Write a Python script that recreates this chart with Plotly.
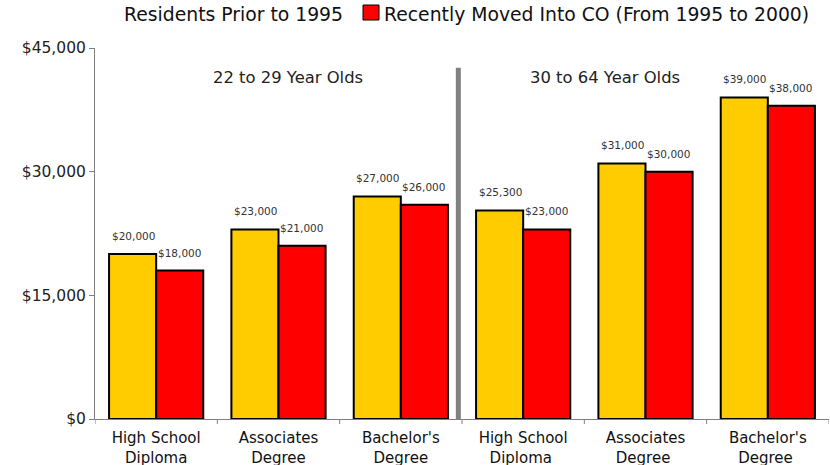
import plotly.graph_objects as go

categories = ["High School<br>Diploma", "Associates<br>Degree", "Bachelor's<br>Degree",
              "High School<br>Diploma ", "Associates<br>Degree ", "Bachelor's<br>Degree "]
residents = [20000, 23000, 27000, 25300, 31000, 39000]
movers = [18000, 21000, 26000, 23000, 30000, 38000]
series_names = ["Residents Prior to 1995", "Recently Moved Into CO (From 1995 to 2000)"]
group_titles = ["22 to 29 Year Olds", "30 to 64 Year Olds"]
y_ticks = [0, 15000, 30000, 45000]

YELLOW = "#FFCC00"
RED = "#FF0000"
FONT = "DejaVu Sans"

x_idx = list(range(len(categories)))

fig = go.Figure()
fig.add_trace(go.Bar(x=x_idx, y=residents, name=series_names[0], marker_color=YELLOW,
                     marker_line=dict(color="black", width=2), showlegend=False))
fig.add_trace(go.Bar(x=x_idx, y=movers, name=series_names[1], marker_color=RED,
                     marker_line=dict(color="black", width=2), showlegend=False))

W, H = 830, 465
L, R, T, B = 95, 1, 48, 46
pw, ph = W - L - R, H - T - B

def px2paper_x(px):
    return (px - L) / pw

def px2paper_y(py):
    return (H - B - py) / ph

annotations = []
for i, (a, b) in enumerate(zip(residents, movers)):
    annotations.append(dict(x=i, y=a, xref="x", yref="y", text=f"${a:,}", showarrow=False,
                            xshift=-23, yshift=18, font=dict(family=FONT, size=10.5, color="#333")))
    annotations.append(dict(x=i, y=b, xref="x", yref="y", text=f"${b:,}", showarrow=False,
                            xshift=23, yshift=18, font=dict(family=FONT, size=10.5, color="#333")))

annotations.append(dict(x=1.08, y=41400, xref="x", yref="y", text=group_titles[0], showarrow=False,
                        font=dict(family=FONT, size=16.4, color="#222")))
annotations.append(dict(x=3.67, y=41400, xref="x", yref="y", text=group_titles[1], showarrow=False,
                        font=dict(family=FONT, size=16.4, color="#222")))

# legend drawn as annotations
annotations.append(dict(x=px2paper_x(122), y=px2paper_y(15), xref="paper", yref="paper",
                        xanchor="left", yanchor="middle", text=series_names[0], showarrow=False,
                        font=dict(family=FONT, size=18.8, color="#111")))
annotations.append(dict(x=px2paper_x(382), y=px2paper_y(15), xref="paper", yref="paper",
                        xanchor="left", yanchor="middle", text=series_names[1], showarrow=False,
                        font=dict(family=FONT, size=18.8, color="#111")))

shapes = [
    dict(type="line", xref="x", yref="y", x0=2.47, x1=2.47, y0=0, y1=42600,
         line=dict(color="#808080", width=5)),
    dict(type="rect", xref="paper", yref="paper",
         x0=px2paper_x(363), x1=px2paper_x(379), y0=px2paper_y(20), y1=px2paper_y(5),
         fillcolor=RED, line=dict(color="black", width=1)),
]

fig.update_layout(
    width=W, height=H,
    margin=dict(l=L, r=R, t=T, b=B),
    barmode="group", bargap=0.23, bargroupgap=0,
    plot_bgcolor="white", paper_bgcolor="white",
    annotations=annotations, shapes=shapes,
    font=dict(family=FONT, color="#222"),
    xaxis=dict(tickmode="array", tickvals=x_idx, ticktext=categories, range=[-0.5, 5.5],
               showgrid=False, zeroline=False, showline=True, linecolor="#808080", linewidth=1,
               ticks="", ticklabelstandoff=5, automargin=False,
               tickfont=dict(family=FONT, size=15, color="#111")),
    yaxis=dict(range=[0, 45000], tickmode="array", tickvals=y_ticks,
               ticktext=[f"${v:,}" for v in y_ticks], automargin=False,
               showgrid=False, zeroline=False, showline=True, linecolor="#808080", linewidth=1,
               ticks="outside", ticklen=5, tickcolor="#808080",
               tickfont=dict(family=FONT, size=15.5, color="#222")),
)

# x-axis boundary tick marks between categories
for k in range(len(categories) + 1):
    fig.add_shape(type="line", xref="x", yref="paper", x0=k - 0.5, x1=k - 0.5, y0=0,
                  y1=-5 / ph, line=dict(color="#808080", width=1))

fig.write_html("out.html", config={"displayModeBar": False},
               post_script="document.body.style.margin='0';")
